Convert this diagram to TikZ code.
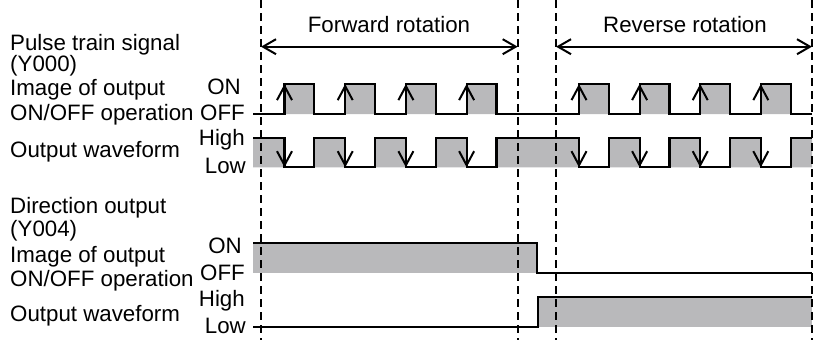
\documentclass[tikz,border=0pt]{standalone}
\usepackage{fontspec}
\setmainfont{Liberation Sans}
\usetikzlibrary{arrows.meta}
\definecolor{fillgray}{RGB}{185,185,187}
\begin{document}
\begin{tikzpicture}[x=1pt,y=-1pt,
  wave/.style={line width=2.2pt, line join=miter},
  guide/.style={line width=2pt, dash pattern=on 8pt off 5pt},
  edgeup/.style={line width=2pt, -{Straight Barb[length=14pt,width=15pt]}},
  spanarrow/.style={line width=2pt, {Straight Barb[length=13pt,width=15pt]}-{Straight Barb[length=13pt,width=15pt]}},
  lbl/.style={anchor=base west, inner sep=0pt, font=\fontsize{22.3}{22.3}\selectfont},
  lvl/.style={anchor=base east, inner sep=0pt, font=\fontsize{22.3}{22.3}\selectfont},
  ttl/.style={anchor=base, inner sep=0pt, font=\fontsize{22.3}{22.3}\selectfont},
]
\useasboundingbox (0,0) rectangle (813,340);
\def\w{29.8}
% ---- fills
\fill[fillgray] \foreach \r in {284.5,345.2,405.9,466.6,579,639.6,700.2,760.8} {(\r,84) rectangle (\r+\w,114)};
\fill[fillgray] (253,167.3) -- (253,137.7)
  \foreach \r in {284.5,345.2,405.9,466.6,579,639.6,700.2,760.8} {-- (\r,137.7) -- (\r,167.3) -- (\r+\w,167.3) -- (\r+\w,137.7)}
  -- (812,137.7) -- (812,167.3) -- cycle;
\fill[fillgray] (253,243) rectangle (536.7,273);
\fill[fillgray] (537.7,297) rectangle (812,327);
% ---- dashed guides
\coordinate (g1t) at (261,0);   \coordinate (g1b) at (261,340);
\coordinate (g2t) at (517.7,0); \coordinate (g2b) at (517.7,340);
\coordinate (g3t) at (556,0);   \coordinate (g3b) at (556,340);
\coordinate (g4t) at (812,0);   \coordinate (g4b) at (812,340);
\draw[guide] (g1t) -- (g1b);
\draw[guide] (g2t) -- (g2b);
\draw[guide] (g3t) -- (g3b);
\draw[guide] (g4t) -- (g4b);
% ---- rotation spans
\coordinate (f1) at (261,46.7); \coordinate (f2) at (517.7,46.7);
\coordinate (r1) at (556,46.7); \coordinate (r2) at (812,46.7);
\draw[spanarrow] (f1) -- (f2);
\draw[spanarrow] (r1) -- (r2);
\node[ttl] (fwd) at (389,32) {Forward rotation};
\node[ttl] (rev) at (685,32) {Reverse rotation};
% ---- pulse train waveforms
\draw[wave] (253,114)
  \foreach \r in {284.5,345.2,405.9,466.6,579,639.6,700.2,760.8} {-- (\r,114) -- (\r,84) -- (\r+\w,84) -- (\r+\w,114)}
  -- (812,114);
\draw[wave] (253,137.7)
  \foreach \r in {284.5,345.2,405.9,466.6,579,639.6,700.2,760.8} {-- (\r,137.7) -- (\r,167.3) -- (\r+\w,167.3) -- (\r+\w,137.7)}
  -- (812,137.7);
\foreach \r in {284.5,345.2,405.9,466.6,579,639.6,700.2,760.8} {
  \draw[edgeup] (\r,114) -- (\r,84);
  \draw[edgeup] (\r,137.7) -- (\r,167.3);
}
% ---- direction waveforms
\draw[wave] (253,243) -- (536.7,243) -- (536.7,273) -- (812,273);
\draw[wave] (253,327) -- (537.7,327) -- (537.7,297) -- (812,297);
% ---- labels
\node[lbl] (p1) at (10,50) {Pulse train signal};
\node[lbl] (p2) at (10,71.5) {(Y000)};
\node[lbl] (p3) at (10,95.5) {Image of output};
\node[lbl] (p4) at (10,120) {ON/OFF operation};
\node[lbl] (p5) at (10,157.3) {Output waveform};
\node[lvl] (pon) at (241,94) {ON};
\node[lvl] (poff) at (245,120) {OFF};
\node[lvl] (phi) at (245,145) {High};
\node[lvl] (plo) at (246,173.3) {Low};
\node[lbl] (d1) at (10,213.5) {Direction output};
\node[lbl] (d2) at (10,236.5) {(Y004)};
\node[lbl] (d3) at (10,262) {Image of output};
\node[lbl] (d4) at (10,286) {ON/OFF operation};
\node[lbl] (d5) at (10,321.7) {Output waveform};
\node[lvl] (don) at (242,253) {ON};
\node[lvl] (doff) at (245,280) {OFF};
\node[lvl] (dhi) at (245,306) {High};
\node[lvl] (dlo) at (246,333) {Low};
\end{tikzpicture}
\end{document}
